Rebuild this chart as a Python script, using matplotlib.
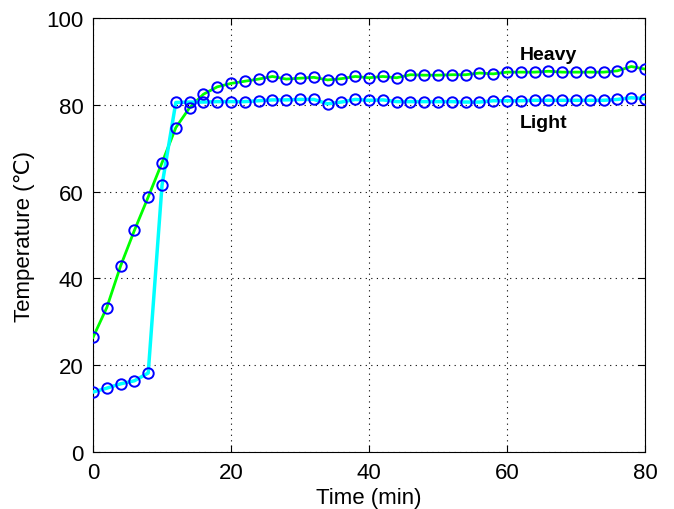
import numpy as np
import matplotlib
matplotlib.use('Agg')
import matplotlib.pyplot as plt

plt.rcParams['font.family'] = ['Liberation Sans', 'DejaVu Sans']
plt.rcParams['font.size'] = 16

# time in minutes, sampled every 2 min
time_min = list(range(0, 81, 2))

heavy = [26.4, 33.3, 42.9, 51.1, 58.8, 66.7, 74.8, 79.4, 82.5, 84.2,
         85.0, 85.5, 86.0, 86.6, 86.0, 86.2, 86.4, 85.8, 86.1, 86.6,
         86.3, 86.6, 86.3, 87.0, 86.9, 86.9, 87.0, 87.0, 87.4, 87.2,
         87.6, 87.6, 87.6, 87.8, 87.6, 87.6, 87.6, 87.6, 87.9, 88.9,
         88.3]

light = [13.8, 14.7, 15.7, 16.4, 18.2, 61.5, 80.6, 80.7, 80.7, 80.8,
         80.8, 80.8, 81.0, 81.2, 81.2, 81.3, 81.3, 80.3, 80.7, 81.3,
         81.1, 81.2, 80.8, 80.8, 80.8, 80.8, 80.8, 80.7, 80.7, 81.0,
         81.0, 81.0, 81.1, 81.1, 81.1, 81.1, 81.1, 81.1, 81.3, 81.7,
         81.5]

fig = plt.figure(figsize=(6.74, 5.10), dpi=100)
ax = fig.add_axes([0.138, 0.112, 0.819, 0.850])

ax.plot(time_min, heavy, color=(0, 1, 0), lw=2, zorder=3)
ax.plot(time_min, light, color=(0, 1, 1), lw=2.5, zorder=3)
ax.plot(time_min, heavy, 'o', mfc='none', mec=(0, 0, 1), ms=7.5, mew=1.4, zorder=4)
ax.plot(time_min, light, 'o', mfc='none', mec=(0, 0, 1), ms=7.5, mew=1.4, zorder=4)

ax.text(61.9, 91.7, 'Heavy', fontsize=14, fontweight='bold', va='center', ha='left')
ax.text(61.9, 76.0, 'Light', fontsize=14, fontweight='bold', va='center', ha='left')

ax.set_xlim(0, 80)
ax.set_ylim(0, 100)
ax.set_xticks([0, 20, 40, 60, 80])
ax.set_yticks([0, 20, 40, 60, 80, 100])
ax.grid(True, color='k', linestyle=(0, (1, 4)), linewidth=0.8)
ax.tick_params(direction='in', top=True, right=True, length=5, pad=7)
ax.set_xlabel('Time (min)', labelpad=3)
ax.set_ylabel('Temperature (\u2103)', labelpad=8)

fig.savefig('out.png', dpi=100, facecolor='w')
